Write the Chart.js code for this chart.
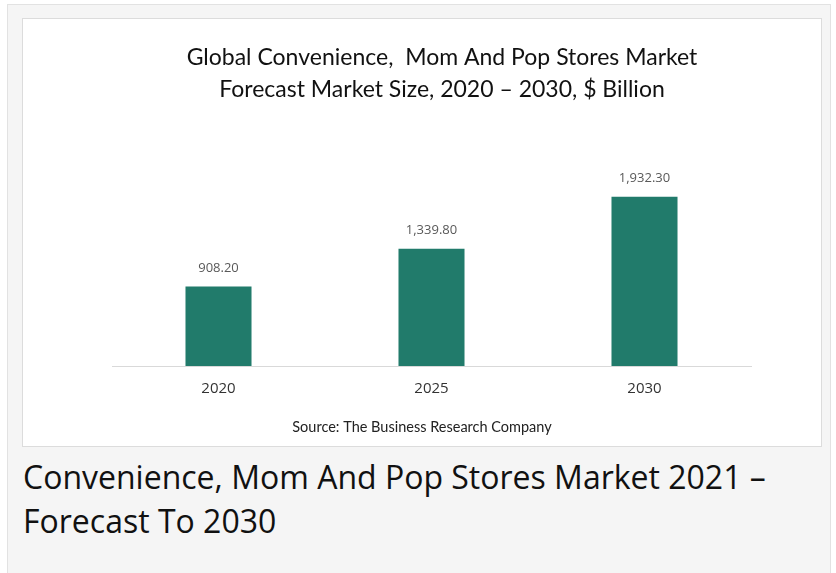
<!DOCTYPE html>
<html>
<head>
<meta charset="utf-8">
<script src="https://cdn.jsdelivr.net/npm/chart.js@4.4.0/dist/chart.umd.min.js"></script>
<style>
  html, body { margin: 0; padding: 0; background: #fff; }
  body { width: 836px; height: 573px; overflow: hidden; position: relative; }
  .frame {
    position: absolute; left: 7px; top: 4px; width: 822px; height: 580px;
    background: #f5f5f5; border: 1px solid #e2e2e2;
  }
  .card {
    position: absolute; left: 22px; top: 18px; width: 798px; height: 427px;
    background: #fff; border: 1px solid #dcdcdc;
  }
  .caption {
    position: absolute; left: 23px; top: 455px; width: 900px;
    font-family: "Open Sans", sans-serif; font-size: 32px; line-height: 44px;
    color: #111;
  }
</style>
</head>
<body>
<div class="frame"></div>
<div class="card"><canvas id="chart" width="798" height="427"></canvas></div>
<div class="caption">Convenience, Mom And Pop Stores Market 2021 –<br>Forecast To 2030</div>
<script>
var years = ["2020", "2025", "2030"];
var marketSize = [908.20, 1339.80, 1932.30];
var titleLines = ["Global Convenience,  Mom And Pop Stores Market", "Forecast Market Size, 2020 – 2030, $ Billion"];
var sourceText = "Source: The Business Research Company";

function fmt(v) {
  return v.toLocaleString("en-US", { minimumFractionDigits: 2, maximumFractionDigits: 2 });
}

// title, source line and value labels drawn on the canvas
var textPlugin = {
  id: "texts",
  afterDatasetsDraw: function(chart) {
    var ctx = chart.ctx;
    ctx.save();
    ctx.textAlign = "center";
    ctx.textBaseline = "middle";
    ctx.fillStyle = "#111";
    ctx.font = "23px Lato, 'Open Sans', sans-serif";
    ctx.fillText(titleLines[0], 419, 39);
    ctx.fillText(titleLines[1], 419, 71);

    ctx.fillStyle = "#222";
    ctx.font = "14.5px Lato, 'Open Sans', sans-serif";
    ctx.fillText(sourceText, 399, 408);

    ctx.fillStyle = "#595959";
    ctx.font = "13px 'Open Sans', sans-serif";
    var meta = chart.getDatasetMeta(0);
    meta.data.forEach(function(bar, i) {
      ctx.fillText(fmt(marketSize[i]), bar.x, bar.y - 18);
    });
    ctx.restore();
  }
};

new Chart(document.getElementById("chart"), {
  type: "bar",
  data: {
    labels: years,
    datasets: [{
      data: marketSize,
      backgroundColor: "#217b6b",
      categoryPercentage: 1,
      barPercentage: 0.31
    }]
  },
  options: {
    responsive: false,
    animation: false,
    layout: { padding: { left: 89, right: 70, top: 128, bottom: 34 } },
    plugins: {
      legend: { display: false },
      title: { display: false },
      tooltip: { enabled: false }
    },
    scales: {
      x: {
        grid: { display: false, drawTicks: false },
        border: { color: "#d9d9d9", width: 1 },
        ticks: {
          color: "#333",
          font: { family: "'Open Sans', sans-serif", size: 15 },
          padding: 14
        }
      },
      y: {
        display: false,
        min: 0,
        max: 2500
      }
    }
  },
  plugins: [textPlugin]
});
</script>
</body>
</html>
